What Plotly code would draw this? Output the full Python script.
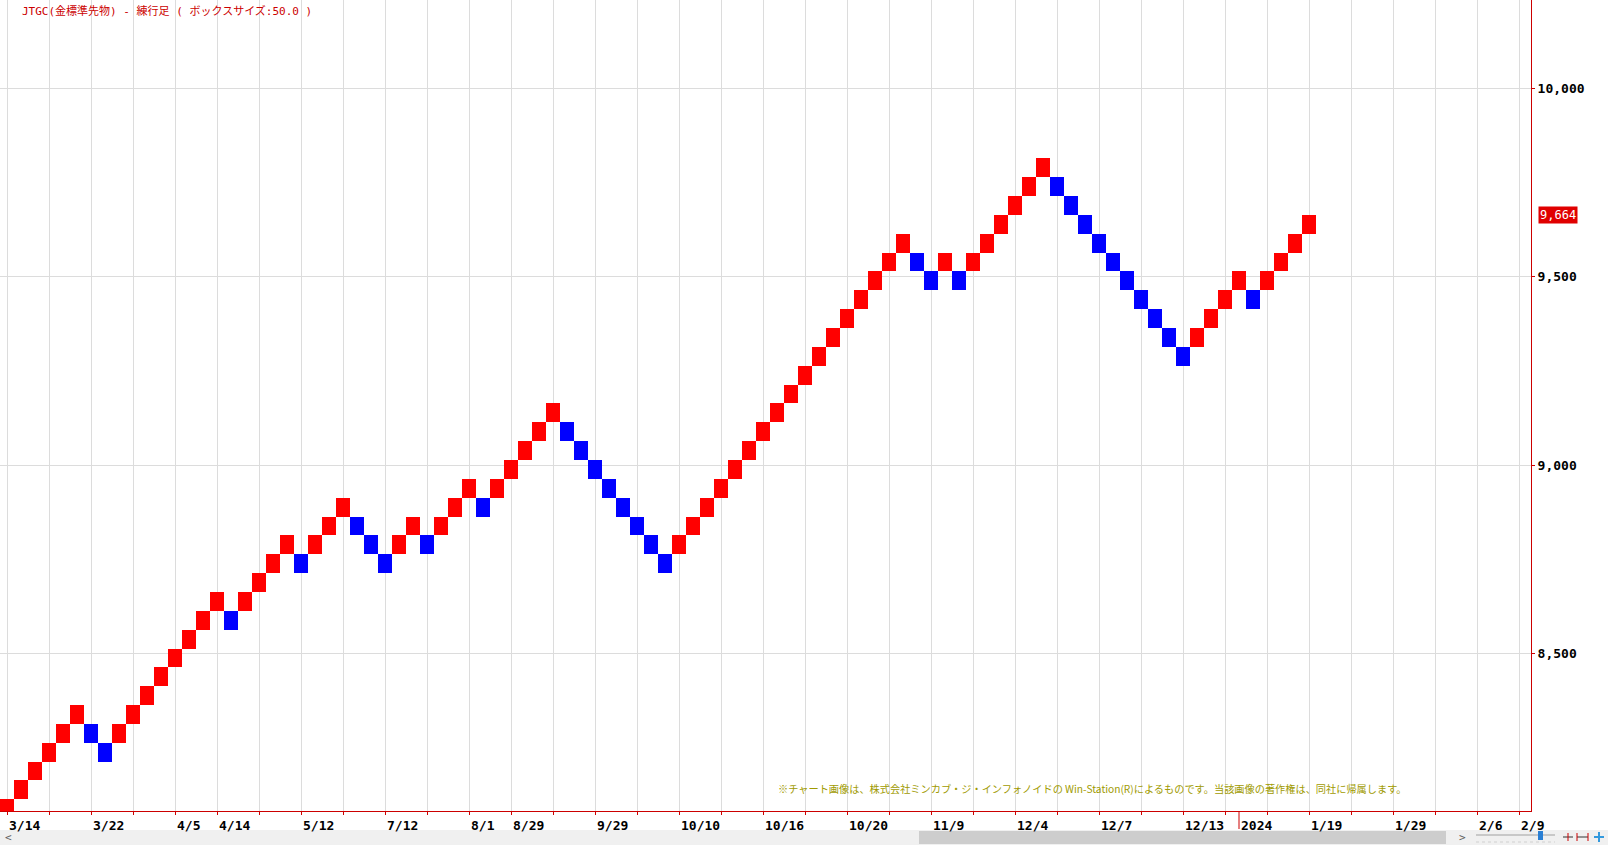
import plotly.graph_objects as go

# ---------------- data ----------------
box_size = 50
brick_low = [
    8064, 8114, 8164, 8214, 8264, 8314,            # up
    8264, 8214,                                     # down
    8264, 8314, 8364, 8414, 8464, 8514, 8564, 8614, # up
    8564,                                           # down
    8614, 8664, 8714, 8764,                         # up
    8714,                                           # down
    8764, 8814, 8864,                               # up
    8814, 8764, 8714,                               # down
    8764, 8814,                                     # up
    8764,                                           # down
    8814, 8864, 8914,                               # up
    8864,                                           # down
    8914, 8964, 9014, 9064, 9114,                   # up
    9064, 9014, 8964, 8914, 8864, 8814, 8764, 8714, # down
    8764, 8814, 8864, 8914, 8964, 9014, 9064, 9114, 9164,
    9214, 9264, 9314, 9364, 9414, 9464, 9514, 9564, # up
    9514, 9464,                                     # down
    9514,                                           # up
    9464,                                           # down
    9514, 9564, 9614, 9664, 9714, 9764,             # up
    9714, 9664, 9614, 9564, 9514, 9464, 9414, 9364, 9314, 9264,  # down
    9314, 9364, 9414, 9464,                         # up
    9414,                                           # down
    9464, 9514, 9564, 9614,                         # up
]
brick_dir = (
    ["up"] * 6 + ["down"] * 2 + ["up"] * 8 + ["down"] + ["up"] * 4 + ["down"]
    + ["up"] * 3 + ["down"] * 3 + ["up"] * 2 + ["down"] + ["up"] * 3 + ["down"]
    + ["up"] * 5 + ["down"] * 8 + ["up"] * 17 + ["down"] * 2 + ["up"] + ["down"]
    + ["up"] * 6 + ["down"] * 10 + ["up"] * 4 + ["down"] + ["up"] * 4
)
y_tick_vals = [8500, 9000, 9500, 10000]
y_tick_text = ["8,500", "9,000", "9,500", "10,000"]
x_label_pos = [0, 6, 12, 15, 21, 27, 33, 36, 42, 48, 54, 60, 66, 72, 78, 84, 88, 93, 99, 105, 108]
x_labels = ["3/14", "3/22", "4/5", "4/14", "5/12", "7/12", "8/1", "8/29", "9/29", "10/10",
            "10/16", "10/20", "11/9", "12/4", "12/7", "12/13", "2024", "1/19", "1/29", "2/6", "2/9"]
year_break_col = 88
last_price = 9664
title_text = "JTGC(金標準先物) - 練行足 ( ボックスサイズ:50.0 )"
copyright_text = ("※チャート画像は、株式会社ミンカブ・ジ・インフォノイドの Win-Station(R)"
                  "によるものです。当該画像の著作権は、同社に帰属します。")

# ---------------- layout constants ----------------
W, H = 1608, 845
PL, PR, PT, PB = 0, 77, 0, 34
PW = W - PL - PR          # 1531
PH = H - PT - PB          # 811
AXIS_RED = "#cc0000"
GRID = "#dcdcdc"
MONO = "DejaVu Sans Mono"
JP = "Noto Sans CJK JP"

def pxx(x):  # pixel x -> paper
    return (x - PL) / PW

def pxy(y):  # pixel y -> paper
    return (PT + PH - y) / PH

cols = list(range(len(brick_low)))
up_x = [c for c, d in zip(cols, brick_dir) if d == "up"]
up_b = [b for b, d in zip(brick_low, brick_dir) if d == "up"]
dn_x = [c for c, d in zip(cols, brick_dir) if d == "down"]
dn_b = [b for b, d in zip(brick_low, brick_dir) if d == "down"]

fig = go.Figure()
fig.add_trace(go.Bar(x=up_x, y=[box_size] * len(up_x), base=up_b, width=1.0,
                     marker=dict(color="#ff0000", line=dict(width=0)), showlegend=False))
fig.add_trace(go.Bar(x=dn_x, y=[box_size] * len(dn_x), base=dn_b, width=1.0,
                     marker=dict(color="#0000ff", line=dict(width=0)), showlegend=False))

ncols_visible = PW / 14.0
fig.update_layout(
    width=W, height=H,
    margin=dict(l=PL, r=PR, t=PT, b=PB, pad=0),
    paper_bgcolor="white", plot_bgcolor="white",
    barmode="overlay", bargap=0,
    showlegend=False,
    xaxis=dict(range=[-0.5, -0.5 + ncols_visible], tickmode="array",
               tickvals=list(range(0, 109, 3)), showticklabels=False,
               ticks="outside", ticklen=3, tickcolor=AXIS_RED, tickwidth=1,
               showgrid=True, gridcolor=GRID, gridwidth=1,
               showline=True, linecolor=AXIS_RED, linewidth=1,
               zeroline=False, fixedrange=True),
    yaxis=dict(range=[8083, 10234], side="right", tickmode="array",
               tickvals=y_tick_vals, ticktext=y_tick_text,
               ticks="outside", ticklen=3, tickcolor=AXIS_RED, tickwidth=1,
               tickfont=dict(family=MONO, size=13, color="black", weight="bold"),
               showgrid=True, gridcolor=GRID, gridwidth=1,
               showline=True, linecolor=AXIS_RED, linewidth=1,
               zeroline=False, automargin=False, fixedrange=True),
)

annotations = []
for pos, lab in zip(x_label_pos, x_labels):
    annotations.append(dict(x=pos, y=0, xref="x", yref="paper", text=lab,
                            xanchor="left", yanchor="middle", xshift=0, yshift=-14,
                            showarrow=False,
                            font=dict(family=MONO, size=13, color="black", weight="bold")))
annotations.append(dict(x=pxx(20), y=pxy(11), xref="paper", yref="paper", text=title_text,
                        xanchor="left", yanchor="middle", showarrow=False,
                        font=dict(family=MONO + ", " + JP, size=11, color="#cc0000")))
annotations.append(dict(x=pxx(776), y=pxy(788), xref="paper", yref="paper", text=copyright_text,
                        xanchor="left", yanchor="middle", showarrow=False,
                        font=dict(family=JP, size=10.2, color="#a09a00")))
annotations.append(dict(x=1, y=last_price, xref="paper", yref="y", text=str(f"{last_price:,}"),
                        xanchor="left", yanchor="middle", xshift=7, showarrow=False,
                        bgcolor="#e00000", borderpad=1,
                        font=dict(family=MONO, size=12, color="white")))
# scrollbar arrows
annotations.append(dict(x=pxx(8), y=pxy(837), xref="paper", yref="paper", text="<",
                        xanchor="center", yanchor="middle", showarrow=False,
                        font=dict(family=MONO, size=11, color="#606060")))
annotations.append(dict(x=pxx(1462), y=pxy(837), xref="paper", yref="paper", text=">",
                        xanchor="center", yanchor="middle", showarrow=False,
                        font=dict(family=MONO, size=11, color="#606060")))

shapes = [
    # year separator
    dict(type="line", xref="x", yref="paper", x0=year_break_col, x1=year_break_col,
         y0=0, y1=pxy(829), line=dict(color=AXIS_RED, width=1)),
    # scrollbar background
    dict(type="rect", xref="paper", yref="paper", x0=pxx(0), x1=pxx(W), y0=pxy(830), y1=pxy(845),
         fillcolor="#f0f0f0", line=dict(width=0), layer="below"),
    # scrollbar thumb
    dict(type="rect", xref="paper", yref="paper", x0=pxx(919), x1=pxx(1446), y0=pxy(831), y1=pxy(844),
         fillcolor="#cdcdcd", line=dict(width=0), layer="below"),
    # zoom slider track
    dict(type="line", xref="paper", yref="paper", x0=pxx(1476), x1=pxx(1555), y0=pxy(835), y1=pxy(835),
         line=dict(color="#c8c8c8", width=2), layer="above"),
    dict(type="line", xref="paper", yref="paper", x0=pxx(1476), x1=pxx(1555), y0=pxy(842), y1=pxy(842),
         line=dict(color="#d0d0d0", width=1, dash="dot"), layer="above"),
    # slider handle
    dict(type="rect", xref="paper", yref="paper", x0=pxx(1538), x1=pxx(1543), y0=pxy(831), y1=pxy(840),
         fillcolor="#2a7fd4", line=dict(width=0), layer="above"),
    # tool icons
    dict(type="line", xref="paper", yref="paper", x0=pxx(1563), x1=pxx(1573), y0=pxy(837), y1=pxy(837),
         line=dict(color="#333333", width=1), layer="above"),
    dict(type="line", xref="paper", yref="paper", x0=pxx(1568), x1=pxx(1568), y0=pxy(833), y1=pxy(841),
         line=dict(color="#cc0000", width=1), layer="above"),
    dict(type="line", xref="paper", yref="paper", x0=pxx(1577), x1=pxx(1588), y0=pxy(837), y1=pxy(837),
         line=dict(color="#333333", width=1), layer="above"),
    dict(type="line", xref="paper", yref="paper", x0=pxx(1577), x1=pxx(1577), y0=pxy(833), y1=pxy(841),
         line=dict(color="#cc0000", width=1), layer="above"),
    dict(type="line", xref="paper", yref="paper", x0=pxx(1588), x1=pxx(1588), y0=pxy(833), y1=pxy(841),
         line=dict(color="#cc0000", width=1), layer="above"),
    dict(type="line", xref="paper", yref="paper", x0=pxx(1594), x1=pxx(1604), y0=pxy(837), y1=pxy(837),
         line=dict(color="#3399dd", width=2), layer="above"),
    dict(type="line", xref="paper", yref="paper", x0=pxx(1599), x1=pxx(1599), y0=pxy(832), y1=pxy(842),
         line=dict(color="#3399dd", width=2), layer="above"),
]
fig.update_layout(annotations=annotations, shapes=shapes)

fig.write_html("out.html", config={"displayModeBar": False},
               post_script="document.body.style.margin='0';document.body.style.overflow='hidden';")
